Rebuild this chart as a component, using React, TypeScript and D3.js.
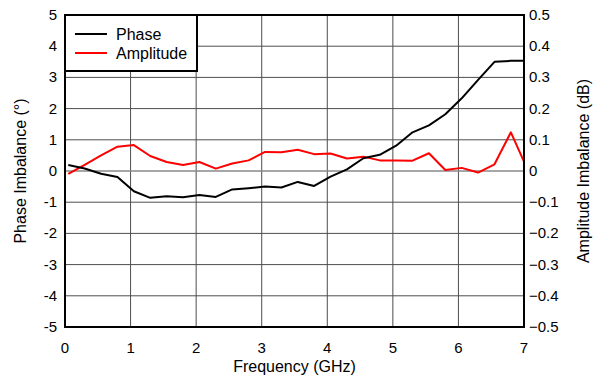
import React from "react";
import * as d3 from "d3";

const freqs = [0.05, 0.3, 0.55, 0.8, 1.05, 1.3, 1.55, 1.8, 2.05, 2.3, 2.55, 2.8, 3.05, 3.3, 3.55, 3.8, 4.05, 4.3, 4.55, 4.8, 5.05, 5.3, 5.55, 5.8, 6.05, 6.3, 6.55, 6.8, 7.0];
const phase = [0.19, 0.08, -0.09, -0.19, -0.65, -0.86, -0.81, -0.84, -0.77, -0.83, -0.59, -0.55, -0.5, -0.53, -0.35, -0.48, -0.18, 0.05, 0.41, 0.52, 0.81, 1.24, 1.46, 1.82, 2.33, 2.92, 3.5, 3.53, 3.53];
const amplitude = [-0.009, 0.02, 0.05, 0.078, 0.083, 0.048, 0.029, 0.019, 0.029, 0.0075, 0.024, 0.034, 0.061, 0.06, 0.068, 0.054, 0.056, 0.04, 0.046, 0.034, 0.034, 0.033, 0.057, 0.003, 0.01, -0.005, 0.0215, 0.124, 0.03];
const xTicks = [0, 1, 2, 3, 4, 5, 6, 7];
const yTicksLeft = [-5, -4, -3, -2, -1, 0, 1, 2, 3, 4, 5];
const yTicksRight = [-0.5, -0.4, -0.3, -0.2, -0.1, 0, 0.1, 0.2, 0.3, 0.4, 0.5];

const W = 596, H = 377;
const L = 65, R = 524, T = 15, B = 327;
const font = "'Liberation Sans', Arial, sans-serif";

export default function App() {
  const x = d3.scaleLinear().domain([0, 7]).range([L, R]);
  const y = d3.scaleLinear().domain([-5, 5]).range([B, T]);
  const y2 = d3.scaleLinear().domain([-0.5, 0.5]).range([B, T]);
  const phaseLine = d3.line<number>().x((_, i) => x(freqs[i])).y((d) => y(d));
  const ampLine = d3.line<number>().x((_, i) => x(freqs[i])).y((d) => y2(d));
  const fmt = (v: number) => (v === 0 ? "0" : d3.format(".1f")(v));

  return (
    <svg width={W} height={H} style={{ position: "absolute", left: 0, top: 0, background: "#fff" }} fontFamily={font}>
      {xTicks.map((t) => (
        <line key={"gx" + t} x1={x(t)} x2={x(t)} y1={T} y2={B} stroke="#4d4d4d" strokeWidth={1} />
      ))}
      {yTicksLeft.map((t) => (
        <line key={"gy" + t} x1={L} x2={R} y1={y(t)} y2={y(t)} stroke={t === 0 ? "#888" : "#4d4d4d"} strokeWidth={t === 0 ? 1.5 : 1} />
      ))}
      <path d={ampLine(amplitude) || ""} fill="none" stroke="#ff0000" strokeWidth={2} strokeLinejoin="round" />
      <path d={phaseLine(phase) || ""} fill="none" stroke="#000" strokeWidth={2} strokeLinejoin="round" />
      <rect x={L} y={T} width={R - L} height={B - T} fill="none" stroke="#000" strokeWidth={2} />
      {/* legend */}
      <rect x={L} y={T} width={132} height={56} fill="#fff" stroke="#000" strokeWidth={2} />
      <line x1={75} x2={107} y1={34} y2={34} stroke="#000" strokeWidth={2} />
      <line x1={75} x2={107} y1={53} y2={53} stroke="#ff0000" strokeWidth={2} />
      <text x={116} y={40} fontSize={16}>Phase</text>
      <text x={116} y={59} fontSize={16}>Amplitude</text>
      {xTicks.map((t) => (
        <text key={"xt" + t} x={x(t)} y={353} fontSize={15} textAnchor="middle">{t}</text>
      ))}
      {yTicksLeft.map((t) => (
        <text key={"yl" + t} x={57} y={y(t) + 5} fontSize={15} textAnchor="end">{t}</text>
      ))}
      {yTicksRight.map((t) => (
        <text key={"yr" + t} x={529} y={y2(t) + 5} fontSize={15} textAnchor="start">{fmt(t)}</text>
      ))}
      <text x={(L + R) / 2} y={372} fontSize={16} textAnchor="middle">Frequency (GHz)</text>
      <text transform={`translate(26,${(T + B) / 2}) rotate(-90)`} fontSize={16} textAnchor="middle">Phase Imbalance (°)</text>
      <text transform={`translate(589,${(T + B) / 2}) rotate(-90)`} fontSize={16} textAnchor="middle">Amplitude Imbalance (dB)</text>
    </svg>
  );
}
